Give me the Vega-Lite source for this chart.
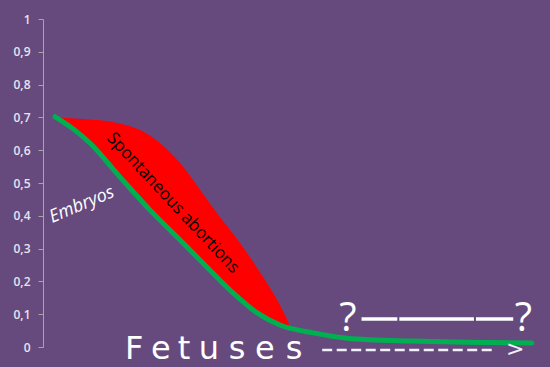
{
  "$schema": "https://vega.github.io/schema/vega-lite/v6.json",
  "width": 504,
  "height": 328,
  "autosize": "none",
  "padding": {"left": 43, "top": 19, "right": 3, "bottom": 20},
  "background": "#664a7e",
  "config": {"view": {"stroke": null}},
  "datasets": {
    "band": [
      {"x": 2.6, "upper": 0.70, "lower": 0.70},
      {"x": 8.0, "upper": 0.695, "lower": 0.638},
      {"x": 14.7, "upper": 0.683, "lower": 0.528},
      {"x": 19.2, "upper": 0.662, "lower": 0.452},
      {"x": 23.2, "upper": 0.622, "lower": 0.387},
      {"x": 27.2, "upper": 0.561, "lower": 0.326},
      {"x": 31.2, "upper": 0.479, "lower": 0.264},
      {"x": 35.1, "upper": 0.396, "lower": 0.204},
      {"x": 39.1, "upper": 0.317, "lower": 0.147},
      {"x": 43.1, "upper": 0.226, "lower": 0.099},
      {"x": 47.0, "upper": 0.128, "lower": 0.067},
      {"x": 48.8, "upper": 0.072, "lower": 0.062}
    ],
    "green": [
      {"x": 2.4, "y": 0.702},
      {"x": 6.0, "y": 0.665},
      {"x": 9.3, "y": 0.622},
      {"x": 15.3, "y": 0.518},
      {"x": 21.2, "y": 0.418},
      {"x": 27.2, "y": 0.326},
      {"x": 32.5, "y": 0.244},
      {"x": 37.7, "y": 0.165},
      {"x": 42.5, "y": 0.104},
      {"x": 47.0, "y": 0.067},
      {"x": 53.6, "y": 0.043},
      {"x": 60.3, "y": 0.027},
      {"x": 73.4, "y": 0.018},
      {"x": 97.0, "y": 0.012}
    ],
    "labels": [
      {"x": 7.7, "y": 0.433, "text": "Embryos", "kind": "embryos"},
      {"x": 25.8, "y": 0.439, "text": "Spontaneous abortions", "kind": "abortions"}
    ],
    "qmarks": [
      {"x": 60.5, "y": 0.049, "text": "?"},
      {"x": 95.3, "y": 0.049, "text": "?"}
    ],
    "qline": [
      {"x": 63.2, "x2": 70.3, "y": 0.085},
      {"x": 70.7, "x2": 85.5, "y": 0.085},
      {"x": 85.9, "x2": 93.3, "y": 0.085}
    ],
    "letters": [
      {"x": 18.1, "y": -0.037, "text": "F"},
      {"x": 23.4, "y": -0.037, "text": "e"},
      {"x": 28.0, "y": -0.037, "text": "t"},
      {"x": 32.9, "y": -0.037, "text": "u"},
      {"x": 38.5, "y": -0.037, "text": "s"},
      {"x": 44.0, "y": -0.037, "text": "e"},
      {"x": 49.8, "y": -0.037, "text": "s"}
    ],
    "dashes": [
      {"x": 55.4, "x2": 89.7, "y": -0.009}
    ],
    "arrow": [
      {"x": 93.7, "y": -0.028, "text": ">"}
    ]
  },
  "encoding": {
    "x": {"field": "x", "type": "quantitative", "scale": {"domain": [0, 100], "nice": false, "zero": false}, "axis": null},
    "y": {
      "field": "y", "type": "quantitative",
      "scale": {"domain": [0, 1], "nice": false, "zero": false},
      "axis": {
        "title": null,
        "values": [0, 0.1, 0.2, 0.3, 0.4, 0.5, 0.6, 0.7, 0.8, 0.9, 1],
        "labelExpr": "replace(format(datum.value, '.1~f'), '.', ',')",
        "grid": false,
        "domainColor": "#a6a6a6",
        "tickColor": "#a6a6a6",
        "tickSize": 5,
        "labelPadding": 8,
        "labelColor": "#e4e4f0",
        "labelFont": "Open Sans",
        "labelFontSize": 12,
        "labelFontWeight": 600
      }
    }
  },
  "layer": [
    {
      "data": {"name": "band"},
      "mark": {"type": "area", "color": "#ff0000", "interpolate": "monotone"},
      "encoding": {
        "y": {"field": "upper", "type": "quantitative"},
        "y2": {"field": "lower"}
      }
    },
    {
      "data": {"name": "green"},
      "mark": {"type": "line", "color": "#00b050", "strokeWidth": 5, "interpolate": "monotone", "strokeCap": "round"},
      "encoding": {}
    },
    {
      "data": {"name": "labels"},
      "transform": [{"filter": "datum.kind == 'embryos'"}],
      "mark": {"type": "text", "font": "Open Sans", "fontSize": 18, "fontStyle": "italic", "color": "#ffffff", "angle": 337, "align": "center", "baseline": "middle"},
      "encoding": {"text": {"field": "text"}}
    },
    {
      "data": {"name": "labels"},
      "transform": [{"filter": "datum.kind == 'abortions'"}],
      "mark": {"type": "text", "font": "Open Sans", "fontSize": 17, "color": "#000000", "angle": 47, "align": "center", "baseline": "middle"},
      "encoding": {"text": {"field": "text"}}
    },
    {
      "data": {"name": "qline"},
      "mark": {"type": "rule", "color": "#ffffff", "strokeWidth": 3.5},
      "encoding": {"x2": {"field": "x2"}}
    },
    {
      "data": {"name": "qmarks"},
      "mark": {"type": "text", "font": "Open Sans", "fontSize": 40, "color": "#ffffff", "align": "center", "baseline": "alphabetic"},
      "encoding": {"text": {"field": "text"}}
    },
    {
      "data": {"name": "letters"},
      "mark": {"type": "text", "font": "DejaVu Sans", "fontSize": 32, "color": "#ffffff", "align": "center", "baseline": "alphabetic"},
      "encoding": {"text": {"field": "text"}}
    },
    {
      "data": {"name": "dashes"},
      "mark": {"type": "rule", "color": "#f0f0f8", "strokeWidth": 2.5, "strokeDash": [10, 4.5]},
      "encoding": {"x2": {"field": "x2"}}
    },
    {
      "data": {"name": "arrow"},
      "mark": {"type": "text", "font": "DejaVu Sans", "fontSize": 22, "color": "#f0f0f8", "align": "center", "baseline": "alphabetic"},
      "encoding": {"text": {"field": "text"}}
    }
  ]
}
